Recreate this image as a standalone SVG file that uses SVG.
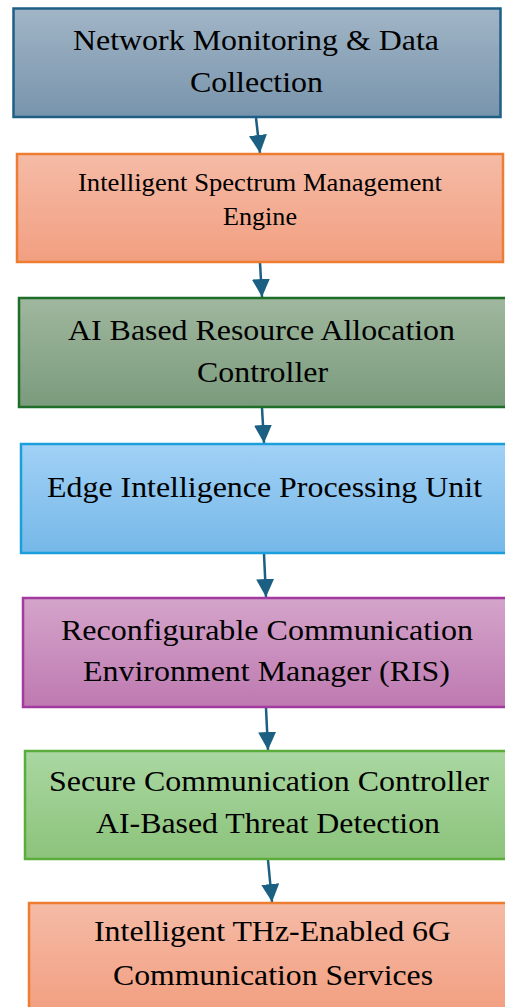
<svg xmlns="http://www.w3.org/2000/svg" width="505" height="1007" viewBox="0 0 505 1007">
<defs>
<linearGradient id="gBlue" x1="0" y1="0" x2="0" y2="1"><stop offset="0" stop-color="#a1b5c6"/><stop offset="1" stop-color="#7894ac"/></linearGradient>
<linearGradient id="gOrange" x1="0" y1="0" x2="0" y2="1"><stop offset="0" stop-color="#f5bba6"/><stop offset="1" stop-color="#f29f81"/></linearGradient>
<linearGradient id="gDkGreen" x1="0" y1="0" x2="0" y2="1"><stop offset="0" stop-color="#9fb79e"/><stop offset="1" stop-color="#7b9b7d"/></linearGradient>
<linearGradient id="gSky" x1="0" y1="0" x2="0" y2="1"><stop offset="0" stop-color="#a1d1f6"/><stop offset="1" stop-color="#75b8e8"/></linearGradient>
<linearGradient id="gPurple" x1="0" y1="0" x2="0" y2="1"><stop offset="0" stop-color="#d4a4ca"/><stop offset="1" stop-color="#be7ab1"/></linearGradient>
<linearGradient id="gGreen" x1="0" y1="0" x2="0" y2="1"><stop offset="0" stop-color="#aad7a2"/><stop offset="1" stop-color="#8cc37b"/></linearGradient>
<linearGradient id="gOrange2" x1="0" y1="0" x2="0" y2="1"><stop offset="0" stop-color="#f5bba6"/><stop offset="0.9" stop-color="#f29f81"/></linearGradient>
<marker id="arr" markerUnits="userSpaceOnUse" markerWidth="18" markerHeight="18" viewBox="0 0 16 16" refX="16" refY="8" orient="auto">
<path d="M0,0 L16,8 L0,16 Z" fill="#1b5f82"/>
</marker>
<style>
.box{stroke-width:2.5}
.t{font-family:"Liberation Serif","Times New Roman",serif;fill:#000;text-anchor:middle}
.big{font-size:30px}
.mid{font-size:26px}
.conn{stroke:#1b5f82;stroke-width:2.5;fill:none;marker-end:url(#arr)}
</style>
</defs>

<g id="connectors">
<path class="conn" d="M256,118 L260,153"/>
<path class="conn" d="M260,263 L262,297"/>
<path class="conn" d="M262,408 L264,443"/>
<path class="conn" d="M264,554 L266,597"/>
<path class="conn" d="M266,708 L268,750"/>
<path class="conn" d="M268,860 L272,902"/>
</g>

<g id="node1">
<rect class="box" x="13.5" y="8.5" width="487" height="108.5" fill="url(#gBlue)" stroke="#1f5f85"/>
<text class="t big" x="256" y="50" textLength="366" lengthAdjust="spacingAndGlyphs">Network Monitoring &amp; Data</text>
<text class="t big" x="256.5" y="92" textLength="133" lengthAdjust="spacingAndGlyphs">Collection</text>
</g>

<g id="node2">
<rect class="box" x="17" y="154" width="486" height="108" fill="url(#gOrange)" stroke="#ed7d31"/>
<text class="t mid" x="260" y="191" textLength="364" lengthAdjust="spacingAndGlyphs">Intelligent Spectrum Management</text>
<text class="t mid" x="260" y="225" textLength="74" lengthAdjust="spacingAndGlyphs">Engine</text>
</g>

<g id="node3">
<rect class="box" x="19" y="298" width="490" height="109" fill="url(#gDkGreen)" stroke="#1e6e2a"/>
<text class="t big" x="261.5" y="340" textLength="387" lengthAdjust="spacingAndGlyphs">AI Based Resource Allocation</text>
<text class="t big" x="262.5" y="382" textLength="131" lengthAdjust="spacingAndGlyphs">Controller</text>
</g>

<g id="node4">
<rect class="box" x="21" y="444" width="490" height="109" fill="url(#gSky)" stroke="#1a9fdb"/>
<text class="t big" x="264.5" y="497" textLength="435" lengthAdjust="spacingAndGlyphs">Edge Intelligence Processing Unit</text>
</g>

<g id="node5">
<rect class="box" x="23" y="598" width="490" height="109" fill="url(#gPurple)" stroke="#a33aa0"/>
<text class="t big" x="267" y="640" textLength="412" lengthAdjust="spacingAndGlyphs">Reconfigurable Communication</text>
<text class="t big" x="266.5" y="681" textLength="367" lengthAdjust="spacingAndGlyphs">Environment Manager (RIS)</text>
</g>

<g id="node6">
<rect class="box" x="25" y="751" width="490" height="108" fill="url(#gGreen)" stroke="#5bad3b"/>
<text class="t big" x="269" y="791" textLength="440" lengthAdjust="spacingAndGlyphs">Secure Communication Controller</text>
<text class="t big" x="268" y="833" textLength="344" lengthAdjust="spacingAndGlyphs">AI-Based Threat Detection</text>
</g>

<g id="node7">
<rect class="box" x="29" y="903" width="490" height="120" fill="url(#gOrange2)" stroke="#ed7d31"/>
<text class="t big" x="272.5" y="941" textLength="357" lengthAdjust="spacingAndGlyphs">Intelligent THz-Enabled 6G</text>
<text class="t big" x="273" y="985" textLength="320" lengthAdjust="spacingAndGlyphs">Communication Services</text>
</g>
</svg>
